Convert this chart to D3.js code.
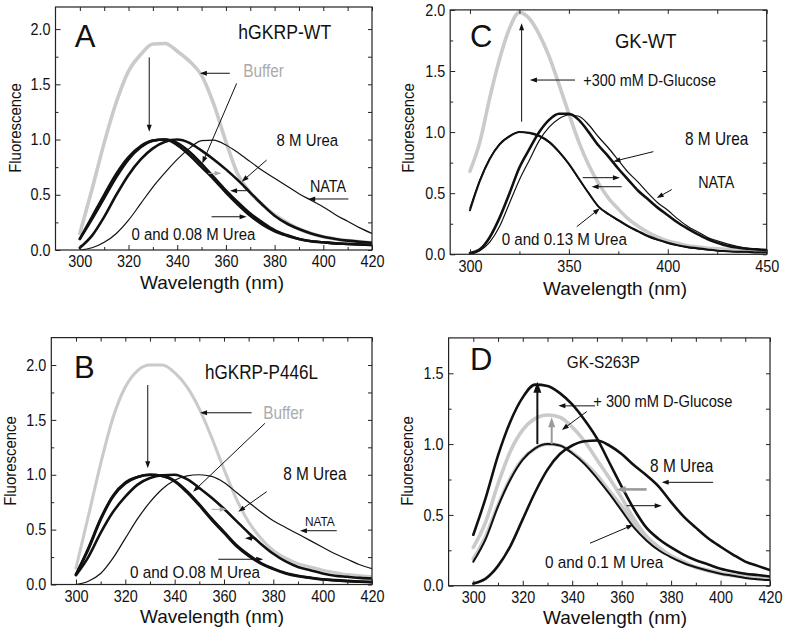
<!DOCTYPE html>
<html><head><meta charset="utf-8">
<script src="https://cdn.jsdelivr.net/npm/d3@7"></script>
<style>
body{margin:0;background:#fff}
svg{display:block}
text{font-family:"Liberation Sans",Arial,Helvetica,sans-serif;fill:#111}
</style>
</head><body>
<svg id="chart" width="785" height="639"></svg>
<script>
// ---------------- DATA ----------------
const wavelength = [300,305,310,315,320,325,330,335,340,345,350,355,360,365,370,375,380,385,390,395,400,405,410,415,420];
const wavelengthC = [300,305,310,315,320,325,330,335,340,345,350,355,360,365,370,375,380,385,390,395,400,405,410,415,420,425,430,435,440,445,450];

// Panel A: hGKRP-WT
const A_buffer = [0.15,0.55,0.97,1.34,1.62,1.77,1.865,1.87,1.80,1.71,1.58,1.32,0.98,0.68,0.52,0.41,0.32,0.25,0.19,0.15,0.12,0.10,0.085,0.075,0.065];
const A_urea0 = [0.10,0.30,0.50,0.69,0.84,0.94,0.99,1.00,0.95,0.86,0.75,0.64,0.52,0.41,0.31,0.23,0.17,0.13,0.10,0.08,0.07,0.06,0.055,0.05,0.045];
const A_urea008 = [0.10,0.28,0.47,0.66,0.82,0.93,0.99,1.00,0.97,0.89,0.78,0.66,0.54,0.43,0.33,0.25,0.18,0.135,0.10,0.08,0.07,0.06,0.055,0.05,0.045];
const A_urea8 = [0.02,0.13,0.30,0.50,0.68,0.82,0.92,0.98,1.00,0.97,0.90,0.82,0.73,0.63,0.52,0.41,0.31,0.24,0.19,0.15,0.12,0.10,0.085,0.075,0.065];
const A_nata = [0.00,0.02,0.07,0.15,0.27,0.42,0.57,0.70,0.82,0.92,0.99,0.995,0.95,0.88,0.80,0.72,0.65,0.58,0.51,0.45,0.39,0.32,0.26,0.20,0.15];

// Panel B: hGKRP-P446L
const B_buffer = [0.15,0.62,1.10,1.52,1.80,1.95,2.00,2.00,1.93,1.80,1.60,1.34,1.05,0.78,0.57,0.42,0.31,0.24,0.19,0.16,0.13,0.11,0.09,0.08,0.07];
const B_urea0 = [0.09,0.33,0.60,0.81,0.93,0.98,1.00,0.99,0.94,0.84,0.72,0.59,0.47,0.35,0.26,0.19,0.14,0.10,0.075,0.06,0.045,0.037,0.03,0.025,0.02];
const B_urea008 = [0.09,0.32,0.59,0.80,0.92,0.98,1.00,0.99,0.945,0.85,0.73,0.60,0.48,0.36,0.27,0.195,0.145,0.105,0.08,0.063,0.048,0.04,0.033,0.028,0.024];
const B_urea8 = [0.085,0.25,0.47,0.66,0.80,0.91,0.97,0.995,1.00,0.96,0.88,0.79,0.69,0.58,0.47,0.37,0.28,0.21,0.16,0.13,0.10,0.08,0.07,0.06,0.055];
const B_nata = [0.00,0.03,0.10,0.24,0.42,0.60,0.75,0.87,0.95,0.99,1.00,0.985,0.93,0.84,0.75,0.66,0.58,0.52,0.46,0.40,0.34,0.28,0.23,0.18,0.145];

// Panel C: GK-WT
const C_glucose = [0.68,0.92,1.28,1.60,1.85,1.98,1.93,1.80,1.62,1.39,1.15,0.92,0.73,0.58,0.46,0.37,0.29,0.23,0.18,0.14,0.11,0.09,0.07,0.06,0.05,0.045,0.04,0.035,0.03,0.03,0.03];
const C_urea0 = [0.36,0.60,0.78,0.90,0.965,1.00,0.995,0.97,0.92,0.84,0.74,0.62,0.50,0.39,0.33,0.28,0.23,0.19,0.15,0.12,0.095,0.075,0.06,0.05,0.04,0.03,0.025,0.02,0.02,0.015,0.015];
const C_urea013 = [0.38,0.61,0.785,0.905,0.97,1.00,0.99,0.965,0.915,0.835,0.735,0.615,0.50,0.39,0.325,0.275,0.225,0.185,0.145,0.115,0.09,0.07,0.055,0.045,0.035,0.03,0.025,0.02,0.02,0.015,0.015];
const C_urea8 = [0.01,0.04,0.14,0.30,0.50,0.71,0.86,1.00,1.10,1.15,1.15,1.10,1.00,0.89,0.80,0.70,0.61,0.52,0.45,0.38,0.32,0.26,0.21,0.165,0.125,0.095,0.07,0.055,0.045,0.04,0.035];
const C_nata = [0.00,0.03,0.10,0.23,0.42,0.61,0.77,0.93,1.04,1.11,1.14,1.13,1.06,0.96,0.87,0.77,0.67,0.59,0.50,0.42,0.36,0.29,0.23,0.185,0.14,0.11,0.085,0.065,0.05,0.04,0.035];

// Panel D: GK-S263P
const D_glucose = [0.36,0.62,0.92,1.16,1.33,1.42,1.41,1.36,1.28,1.17,1.04,0.87,0.70,0.54,0.41,0.33,0.27,0.22,0.18,0.15,0.12,0.10,0.085,0.075,0.065];
const D_glucoseUrea = [0.27,0.45,0.72,0.95,1.10,1.18,1.205,1.19,1.12,1.02,0.89,0.76,0.62,0.47,0.35,0.27,0.21,0.17,0.13,0.11,0.09,0.075,0.065,0.058,0.052];
const D_urea0 = [0.17,0.33,0.56,0.75,0.89,0.97,1.00,0.99,0.935,0.86,0.76,0.65,0.53,0.41,0.32,0.25,0.20,0.16,0.13,0.105,0.085,0.07,0.055,0.045,0.04];
const D_urea01 = [0.19,0.35,0.57,0.76,0.895,0.97,1.00,0.99,0.94,0.87,0.78,0.67,0.56,0.44,0.345,0.27,0.21,0.165,0.13,0.105,0.085,0.07,0.06,0.05,0.045];
const D_urea8 = [0.015,0.05,0.14,0.28,0.47,0.66,0.82,0.93,0.99,1.02,1.025,0.99,0.93,0.85,0.78,0.70,0.59,0.49,0.41,0.335,0.275,0.22,0.17,0.14,0.11];

// Tick labels
const xTicksABD = [300,320,340,360,380,400,420];
const xMinorABD = [310,330,350,370,390,410];
const xTicksC = [300,350,400,450];
const xMinorC = [325,375,425];
const yTicksABC = [0,0.5,1.0,1.5,2.0];
const yMinorABC = [0.25,0.75,1.25,1.75];
const yTicksD = [0,0.5,1.0,1.5];
const yMinorD = [0.25,0.75,1.25];

// ---------------- STYLES ----------------
const GRAY = "#cacaca", GRAYTXT = "#ababab", BLACK = "#111";
const W_GRAY = 3.6, W_THICK = 2.6, W_MED = 2.0, W_THIN = 1.2;
const SX = 0.88;       // horizontal condensing of the lettering
const TICK_FS = 16, TICK_SX = 0.9;

// ---------------- LAYOUT ----------------
const panels = [
  { id:"A", x:[55.5,372], y:[250,7], xd:[290,420], yd:[0,2.2], xt:xTicksABD, xm:xMinorABD, yt:yTicksABC, ym:yMinorABC,
    xTitle:[212,289], yTitle:[21,128],
    series:[
      {v:A_buffer, c:GRAY, w:W_GRAY, wl:wavelength},
      {v:A_nata, c:BLACK, w:W_THIN, wl:wavelength},
      {v:A_urea8, c:BLACK, w:W_THICK, wl:wavelength},
      {v:A_urea008, c:BLACK, w:W_THICK, wl:wavelength},
      {v:A_urea0, c:BLACK, w:W_THICK, wl:wavelength}],
    texts:[
      {t:"A", p:[297.9,1.84], s:31, n:true},
      {t:"hGKRP-WT", p:[365.1,1.91], s:20},
      {t:"Buffer", p:[367.1,1.565], s:17.5, c:GRAYTXT},
      {t:"8 M Urea", p:[380.8,0.94], s:17},
      {t:"NATA", p:[394.5,0.525], s:16.3},
      {t:"0 and 0.08 M Urea", p:[321.2,0.095], s:17}],
    arrows:[
      {a:[328.5,1.744], b:[328.5,1.07]},
      {a:[361.6,1.6], b:[349.3,1.6]},
      {a:[364.4,1.508], b:[350.3,0.784]},
      {a:[376.7,0.814], b:[366.5,0.618]},
      {a:[352.7,0.694], b:[358.2,0.694], c:"#aaa"},
      {a:[368.5,0.537], b:[361.7,0.537]},
      {a:[410.3,0.462], b:[393.8,0.462]},
      {a:[354.1,0.301], b:[368.5,0.301]}]
  },
  { id:"B", x:[51.3,372], y:[584.5,337.6], xd:[290,420], yd:[0,2.25], xt:xTicksABD, xm:xMinorABD, yt:yTicksABC, ym:yMinorABC,
    xTitle:[212,623], yTitle:[16,461],
    series:[
      {v:B_buffer, c:GRAY, w:W_GRAY*0.85, wl:wavelength},
      {v:B_nata, c:BLACK, w:W_THIN, wl:wavelength},
      {v:B_urea8, c:BLACK, w:W_THICK, wl:wavelength},
      {v:B_urea008, c:BLACK, w:W_THICK, wl:wavelength},
      {v:B_urea0, c:BLACK, w:W_THICK, wl:wavelength}],
    texts:[
      {t:"B", p:[299.2,1.88], s:31, n:true},
      {t:"hGKRP-P446L", p:[352.3,1.87], s:19.4},
      {t:"Buffer", p:[375.9,1.51], s:17.5, c:GRAYTXT},
      {t:"8 M Urea", p:[384,0.955], s:17.5},
      {t:"NATA", p:[392.8,0.535], s:13.5},
      {t:"0 and O.08 M Urea", p:[321.9,0.06], s:17.4}],
    arrows:[
      {a:[329.1,1.818], b:[329.1,1.059]},
      {a:[371.2,1.565], b:[350.3,1.565]},
      {a:[376.6,1.469], b:[347.5,0.846]},
      {a:[377.3,0.846], b:[365.8,0.663]},
      {a:[355,0.685], b:[361.1,0.685], c:"#aaa"},
      {a:[373.2,0.421], b:[368.5,0.421]},
      {a:[405.7,0.49], b:[390.8,0.49]},
      {a:[357.7,0.23], b:[375.9,0.23]}]
  },
  { id:"C", x:[450.2,766.7], y:[254.3,9.9], xd:[290,450], yd:[0,2.0], xt:xTicksC, xm:xMinorC, yt:yTicksABC, ym:yMinorABC,
    xTitle:[615,295], yTitle:[414,128],
    series:[
      {v:C_glucose, c:GRAY, w:W_GRAY, wl:wavelengthC},
      {v:C_nata, c:BLACK, w:W_THIN, wl:wavelengthC},
      {v:C_urea8, c:BLACK, w:W_THICK, wl:wavelengthC},
      {v:C_urea013, c:BLACK, w:W_THIN, wl:wavelengthC},
      {v:C_urea0, c:BLACK, w:W_MED, wl:wavelengthC}],
    texts:[
      {t:"C", p:[300,1.70], s:31, n:true},
      {t:"GK-WT", p:[373.3,1.686], s:21},
      {t:"+300 mM D-Glucose", p:[357.3,1.377], s:16.4},
      {t:"8 M Urea", p:[408.7,0.894], s:17.5},
      {t:"NATA", p:[415.4,0.545], s:16.3},
      {t:"0 and 0.13 M Urea", p:[316,0.076], s:17.2}],
    arrows:[
      {a:[326.1,1.085], b:[326.1,1.89]},
      {a:[353.1,1.426], b:[330.3,1.426]},
      {a:[392.7,0.84], b:[372.5,0.76]},
      {a:[402,0.53], b:[394.4,0.46]},
      {a:[357,0.627], b:[375.8,0.627]},
      {a:[376.7,0.553], b:[361.5,0.553]},
      {a:[354,0.226], b:[365.7,0.376]}]
  },
  { id:"D", x:[448.6,770], y:[585.7,337.9], xd:[290,420], yd:[0,1.75], xt:xTicksABD, xm:xMinorABD, yt:yTicksD, ym:yMinorD,
    xTitle:[615,624], yTitle:[413,461],
    series:[
      {v:D_glucoseUrea, c:GRAY, w:W_GRAY, wl:wavelength},
      {v:D_urea01, c:GRAY, w:W_GRAY, wl:wavelength},
      {v:D_urea0, c:BLACK, w:W_MED, wl:wavelength},
      {v:D_urea8, c:BLACK, w:W_THICK, wl:wavelength},
      {v:D_glucose, c:BLACK, w:W_THICK, wl:wavelength}],
    texts:[
      {t:"D", p:[298.7,1.523], s:31, n:true},
      {t:"GK-S263P", p:[337.8,1.535], s:17.4},
      {t:"+ 300 mM D-Glucose", p:[348.5,1.26], s:16.7},
      {t:"8 M Urea", p:[371.5,0.80], s:17.5},
      {t:"0 and 0.1 M Urea", p:[329,0.123], s:17.4}],
    arrows:[
      {a:[325.9,1.0], b:[325.9,1.44], w:2, hl:11, hw:8},
      {a:[331.7,1.0], b:[331.7,1.19], w:2, hl:10, hw:7, c:"#9a9a9a"},
      {a:[349.2,1.27], b:[334.4,1.27]},
      {a:[345.9,1.23], b:[335.8,1.10]},
      {a:[397,0.73], b:[376.2,0.73]},
      {a:[370.1,0.68], b:[358,0.68], w:2.6, hl:9, hw:7, c:"#9a9a9a"},
      {a:[362,0.565], b:[376.2,0.565]},
      {a:[347.2,0.30], b:[364.7,0.43]}]
  }
];

// ---------------- DRAW ----------------
const svg = d3.select("#chart");

function drawArrow(g, x1, y1, x2, y2, o) {
  const col = o.c || BLACK, lw = o.w || 1, hl = o.hl || 7, hw = o.hw || 5;
  const dx = x2 - x1, dy = y2 - y1, L = Math.hypot(dx, dy);
  const ux = dx / L, uy = dy / L;
  const bx = x2 - ux * hl, by = y2 - uy * hl;
  g.append("line").attr("x1", x1).attr("y1", y1).attr("x2", bx + ux).attr("y2", by + uy)
    .attr("stroke", col).attr("stroke-width", lw);
  const px = -uy, py = ux;
  g.append("path")
    .attr("d", `M${x2},${y2}L${bx + px*hw/2},${by + py*hw/2}L${bx - px*hw/2},${by - py*hw/2}Z`)
    .attr("fill", col);
}

function label(g, x, y, str, size, opt = {}) {
  const sx = opt.sx == null ? SX : opt.sx;
  const rot = opt.rot ? ` rotate(${opt.rot})` : "";
  return g.append("text")
    .attr("transform", `translate(${x},${y})${rot} scale(${sx},1)`)
    .attr("text-anchor", opt.anchor || "start")
    .attr("font-size", size)
    .style("fill", opt.color || "#111")
    .text(str);
}

function styleTicks(sel) {
  sel.selectAll(".tick text").each(function () {
    const t = d3.select(this);
    const x0 = +t.attr("x") || 0;
    t.attr("x", x0 / TICK_SX).attr("transform", `scale(${TICK_SX},1)`)
     .attr("font-size", TICK_FS).attr("fill", "#111")
     .style("font-family", '"Liberation Sans",Arial,sans-serif');
  });
}

panels.forEach(p => {
  const x = d3.scaleLinear().domain(p.xd).range(p.x);
  const y = d3.scaleLinear().domain(p.yd).range(p.y);
  const g = svg.append("g");
  const clipId = "clip" + p.id;
  g.append("clipPath").attr("id", clipId).append("rect")
    .attr("x", p.x[0]).attr("y", p.y[1]).attr("width", p.x[1]-p.x[0]).attr("height", p.y[0]-p.y[1]);

  // curves
  const line = d3.line().curve(d3.curveMonotoneX);
  const cg = g.append("g").attr("clip-path", `url(#${clipId})`);
  p.series.forEach(s => {
    const pts = s.wl.map((w, i) => [x(w), y(s.v[i])]);
    cg.append("path").attr("d", line(pts)).attr("fill", "none")
      .attr("stroke", s.c).attr("stroke-width", s.w).attr("stroke-linejoin", "round").attr("stroke-linecap", "round");
  });

  // axes (inward ticks on all four sides)
  const fmt = d3.format(".1f");
  const bottom = g.append("g").attr("transform", `translate(0,${p.y[0]})`)
    .call(d3.axisBottom(x).tickValues(p.xt).tickSizeInner(-5).tickSizeOuter(0).tickPadding(6));
  styleTicks(bottom);
  g.append("g").attr("transform", `translate(0,${p.y[0]})`)
    .call(d3.axisBottom(x).tickValues(p.xm).tickSizeInner(-3).tickSizeOuter(0).tickFormat(""));
  g.append("g").attr("transform", `translate(0,${p.y[1]})`)
    .call(d3.axisTop(x).tickValues(p.xt.concat(p.xm)).tickSizeInner(-4).tickSizeOuter(0).tickFormat(""));
  const left = g.append("g").attr("transform", `translate(${p.x[0]},0)`)
    .call(d3.axisLeft(y).tickValues(p.yt).tickSizeInner(-5).tickSizeOuter(0).tickPadding(5).tickFormat(fmt));
  styleTicks(left);
  g.append("g").attr("transform", `translate(${p.x[0]},0)`)
    .call(d3.axisLeft(y).tickValues(p.ym).tickSizeInner(-3).tickSizeOuter(0).tickFormat(""));
  g.append("g").attr("transform", `translate(${p.x[1]},0)`)
    .call(d3.axisRight(y).tickValues(p.yt.concat(p.ym)).tickSizeInner(-4).tickSizeOuter(0).tickFormat(""));
  g.selectAll(".domain").remove();
  g.selectAll(".tick line").attr("stroke", "#222").attr("stroke-width", 1);
  // frame
  g.append("rect").attr("x", p.x[0]).attr("y", p.y[1]).attr("width", p.x[1]-p.x[0]).attr("height", p.y[0]-p.y[1])
    .attr("fill", "none").attr("stroke", "#222").attr("stroke-width", 1.2);

  // axis titles
  label(g, p.xTitle[0], p.xTitle[1], "Wavelength (nm)", 19, {anchor:"middle", sx:1});
  label(g, p.yTitle[0], p.yTitle[1], "Fluorescence", 17, {anchor:"middle", rot:-90});

  // annotations
  p.texts.forEach(t => label(g, x(t.p[0]), y(t.p[1]), t.t, t.s, {color:t.c, sx:t.n ? 1 : SX}));
  p.arrows.forEach(a => drawArrow(g, x(a.a[0]), y(a.a[1]), x(a.b[0]), y(a.b[1]), a));
});
</script>
</body></html>
